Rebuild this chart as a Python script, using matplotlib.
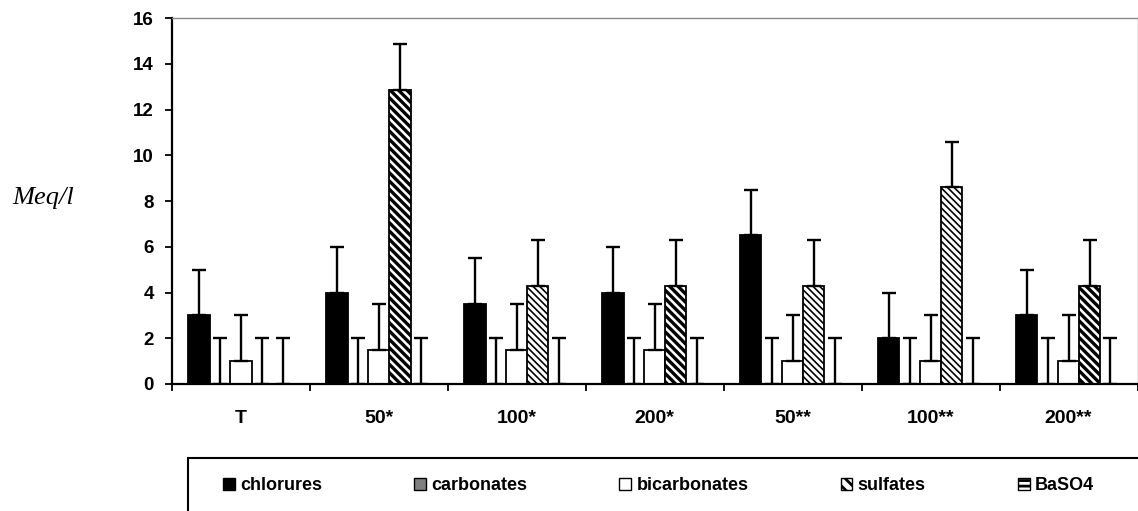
import numpy as np
import matplotlib
matplotlib.use("Agg")
import matplotlib.pyplot as plt
from matplotlib.patches import Patch, Rectangle

plt.rcParams['font.family'] = ['Liberation Sans', 'DejaVu Sans']
plt.rcParams['hatch.linewidth'] = 2.0

# Data
groups = ["T", "50*", "100*", "200*", "50**", "100**", "200**"]
series = ["chlorures", "carbonates", "bicarbonates", "sulfates", "BaSO4"]

chlorures = [3, 4, 3.5, 4, 6.5, 2, 3]
carbonates = [0, 0, 0, 0, 0, 0, 0]
bicarbonates = [1, 1.5, 1.5, 1.5, 1, 1, 1]
sulfates = [0, 12.85, 4.3, 4.3, 4.3, 8.6, 4.3]
baso4 = [0, 0, 0, 0, 0, 0, 0]

err_chlorures = [2, 2, 2, 2, 2, 2, 2]
err_carbonates = [2, 2, 2, 2, 2, 2, 2]
err_bicarbonates = [2, 2, 2, 2, 2, 2, 2]
err_sulfates = [2, 2, 2, 2, 2, 2, 2]
err_baso4 = [2, 2, 2, 2, 2, 2, 2]

values = [chlorures, carbonates, bicarbonates, sulfates, baso4]
errors = [err_chlorures, err_carbonates, err_bicarbonates, err_sulfates, err_baso4]
colors = ["black", "#808080", "white", "white", "white"]
# dense (thick) vs lighter (fine) hatch on the sulfate bars
sulf_dense = [True, True, False, True, False, False, True]

fig = plt.figure(figsize=(11.38, 5.11), dpi=100)
ax = fig.add_axes([172 / 1138, 1 - 384 / 511, (1137.5 - 172) / 1138, (384 - 18) / 511])

x = np.arange(len(groups))
step = 0.152
width = 0.155

for k, (vals, errs, col) in enumerate(zip(values, errors, colors)):
    bars = ax.bar(x + (k - 2) * step, vals, width, color=col, edgecolor="black",
                  linewidth=1.3, yerr=[np.zeros(len(errs)), errs], capsize=5,
                  error_kw=dict(elinewidth=1.7, capthick=1.7, ecolor="black"),
                  zorder=2)
    if series[k] == "sulfates":
        for b, dense in zip(bars, sulf_dense):
            if dense:
                b.set_hatch("\\" * 4)
                if hasattr(b, "set_hatch_linewidth"):
                    b.set_hatch_linewidth(2.4)
            else:
                b.set_hatch("\\" * 5)
                if hasattr(b, "set_hatch_linewidth"):
                    b.set_hatch_linewidth(1.2)

ax.set_xlim(-0.5, len(groups) - 0.5)
ax.set_ylim(0, 16)
ax.set_yticks(np.arange(0, 17, 2))
ax.tick_params(axis="y", direction="out", length=5, width=1.3, pad=8, labelsize=13.5)
for t in ax.get_yticklabels():
    t.set_fontweight("bold")

ax.set_xticks(x)
ax.set_xticklabels(groups, fontsize=14, fontweight="bold")
ax.tick_params(axis="x", which="major", length=0, pad=19)
ax.set_xticks(np.arange(-0.5, len(groups), 1), minor=True)
ax.tick_params(axis="x", which="minor", direction="out", length=5, width=1.3)

for s in ["left", "bottom"]:
    ax.spines[s].set_linewidth(1.6)
    ax.spines[s].set_color("black")
for s in ["top", "right"]:
    ax.spines[s].set_linewidth(1.0)
    ax.spines[s].set_color("#8a8a8a")

fig.text(12 / 1138, 1 - 198 / 511, "Meq/l", fontsize=19, style="italic",
         family=["Liberation Serif", "DejaVu Serif"], va="center", ha="left")

# legend box (runs off the right and bottom edge like the source)
fig.patches.append(Rectangle((188 / 1138, -0.05), 1.0, (1 - 458 / 511) + 0.05,
                             transform=fig.transFigure, fill=False,
                             edgecolor="black", linewidth=1.5))

handles = [
    Patch(facecolor="black", edgecolor="black", linewidth=1),
    Patch(facecolor="#808080", edgecolor="black", linewidth=1),
    Patch(facecolor="white", edgecolor="black", linewidth=1),
    Patch(facecolor="white", edgecolor="black", linewidth=1, hatch="\\\\\\"),
    Patch(facecolor="white", edgecolor="black", linewidth=1, hatch="---"),
]
leg = fig.legend(handles, series, loc="center left",
                 bbox_to_anchor=(223 / 1138, 1 - 486 / 511), ncol=5,
                 frameon=False, borderpad=0, borderaxespad=0,
                 handlelength=0.65, handleheight=0.65, handletextpad=0.3,
                 columnspacing=5.1, prop=dict(size=13, weight="bold"))

fig.savefig("out.png", dpi=100)
